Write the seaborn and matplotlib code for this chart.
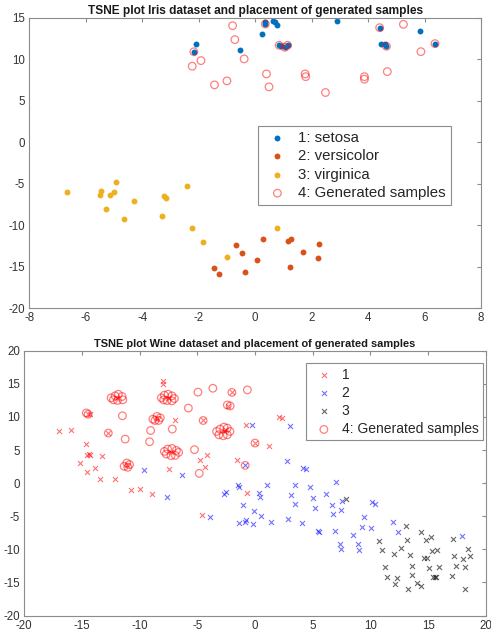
import numpy as np
import pandas as pd
import seaborn as sns
import matplotlib
matplotlib.use("Agg")
import matplotlib.pyplot as plt

# ---- Iris t-SNE embedding ----
iris_setosa = [(-2.10, 11.8), (-2.17, 10.9), (-0.52, 11.08), (0.23, 13.08), (0.36, 14.5),
               (0.36, 14.2), (0.64, 14.64), (0.70, 14.48), (0.76, 14.16), (2.89, 14.6),
               (0.85, 11.68), (0.91, 11.6), (1.05, 11.5), (1.17, 11.68), (4.41, 13.8),
               (4.47, 11.8), (4.61, 11.8), (4.65, 11.56), (5.83, 13.44), (6.37, 11.88)]
iris_versicolor = [(-1.45, -15.2), (-1.28, -15.9), (-0.67, -12.4), (-0.47, -13.4), (-0.36, -15.6),
                   (0.07, -14.2), (0.27, -11.6), (1.18, -11.85), (1.28, -11.7), (1.24, -15.05),
                   (1.71, -13.2), (2.21, -14.0), (2.27, -12.2)]
iris_virginica = [(-6.67, -5.95), (-5.46, -5.83), (-5.49, -6.35), (-5.29, -8.03), (-5.14, -6.31),
                  (-4.99, -5.99), (-4.93, -4.75), (-4.64, -9.24), (-4.28, -7.11), (-3.31, -8.92),
                  (-3.22, -6.51), (-3.16, -6.71), (-2.41, -5.27), (-2.24, -10.36), (-1.84, -12.04),
                  (-1.0, -13.85), (0.76, -10.3)]
iris_generated = [(-2.17, 10.9), (-2.23, 9.16), (-1.92, 9.83), (-1.44, 6.91), (-1.0, 7.39),
                  (-0.80, 14.04), (-0.72, 12.36), (-0.39, 10.04), (0.36, 14.24), (0.40, 8.23),
                  (0.49, 6.67), (0.85, 11.68), (1.05, 11.44), (1.15, 11.68), (1.77, 8.23),
                  (1.79, 7.9), (2.49, 5.99), (3.87, 7.9), (3.87, 7.6), (4.41, 13.8),
                  (4.65, 11.56), (4.68, 8.51), (5.25, 14.2), (5.87, 10.91), (6.37, 11.88)]
iris_labels = ["1: setosa", "2: versicolor", "3: virginica", "4: Generated samples"]

# ---- Wine t-SNE embedding ----
wine_class1 = [(-16.96, 7.8), (-15.94, 7.95), (-14.63, 5.95), (-14.57, 4.25), (-14.26, 4.25),
               (-14.37, 4.44), (-15.16, 3.04), (-14.52, 1.63), (-13.88, 2.23), (-13.24, 4.04),
               (-13.42, 0.68), (-12.09, 0.63), (-14.45, 10.4), (-14.3, 10.45), (-12.7, 7.56),
               (-11.97, 12.9), (-11.1, 2.75), (-8.0, 15.48), (-8.0, 14.94), (-7.55, 12.9),
               (-8.5, 9.8), (-6.96, 9.46), (-4.49, 9.46), (-2.7, 7.8), (-2.5, 8.0),
               (-7.25, 4.7), (-4.72, 3.43), (-4.14, 4.25), (-4.35, 2.38), (-7.48, 2.14),
               (-1.53, 3.54), (-0.78, 8.81), (-2.0, 13.7), (-2.3, 11.7), (2.09, 10.0),
               (2.35, 9.8), (0.0, 6.05), (1.19, 5.65), (-10.72, -1.08), (-10.0, -0.87),
               (-8.9, -1.63), (-4.57, -4.85), (-0.72, -1.48)]
wine_class2 = [(-9.59, 2.03), (-6.29, 1.23), (-1.44, -0.23), (-1.36, -0.57), (-7.62, -2.08),
               (-3.91, -5.05), (-2.7, -1.58), (-2.52, -1.38), (-1.01, -3.28), (-1.36, -6.1),
               (-0.84, -5.9), (-0.75, -5.5), (-0.17, -6.25), (-0.09, -4.14), (0.35, -1.48),
               (0.43, -2.14), (0.56, -5.0), (1.02, -0.33), (1.39, -5.85), (2.84, -5.4),
               (3.08, -1.83), (3.45, -0.23), (3.48, -3.13), (4.03, -6.1), (4.76, -0.57),
               (5.02, -2.23), (5.22, -3.73), (5.48, -7.26), (5.57, -7.36), (6.12, -1.63),
               (6.64, -3.24), (6.76, -4.74), (6.93, -7.26), (7.02, 0.12), (7.45, -4.04),
               (7.39, -9.26), (7.45, -10.0), (7.51, -2.63), (8.52, -7.8), (8.96, -9.2),
               (9.0, -10.17), (9.25, -6.65), (9.45, -5.09), (10.06, -6.85), (10.15, -2.89),
               (10.35, -3.13), (11.97, -5.85), (12.35, -7.41), (17.89, -8.06), (-0.23, 8.81),
               (3.04, 8.7), (2.73, 3.39), (4.12, 2.33), (4.41, 2.14), (-0.85, 2.68)]
wine_class3 = [(7.89, -2.39), (10.73, -8.76), (11.02, -10.12), (11.25, -12.73), (11.45, -14.23),
               (12.06, -10.66), (12.15, -15.24), (12.32, -14.28), (12.61, -9.82), (13.1, -6.5),
               (13.19, -8.66), (13.25, -16.04), (13.45, -10.92), (13.6, -12.53), (13.6, -13.83),
               (14.06, -15.04), (14.35, -7.35), (14.41, -15.54), (14.64, -11.32), (14.87, -11.32),
               (14.84, -8.66), (15.08, -12.83), (15.22, -8.1), (15.34, -10.32), (15.45, -14.23),
               (15.57, -14.23), (15.65, -14.2), (15.77, -10.17), (15.97, -12.68), (17.08, -13.98),
               (17.13, -8.4), (17.22, -11.02), (17.37, -12.58), (17.97, -11.52), (18.17, -12.63),
               (18.17, -15.93), (18.47, -10.02), (18.64, -11.02)]
wine_generated = [
    # cluster near (-12, 12.9)
    (-12.46, 12.88), (-12.11, 13.18), (-11.83, 13.43), (-11.51, 13.08), (-11.45, 12.58),
    (-11.91, 12.48), (-12.26, 12.58),
    # cluster near (-7.5, 12.9)
    (-8.11, 12.88), (-7.85, 13.28), (-7.53, 13.43), (-7.19, 13.18), (-6.98, 12.78),
    (-7.19, 12.42), (-7.62, 12.47), (-7.91, 12.57),
    # cluster near (-8.5, 9.8)
    (-8.84, 9.66), (-8.49, 10.07), (-8.2, 9.86), (-8.34, 9.46), (-8.66, 9.46),
    # cluster near (-2.7, 7.8)
    (-3.33, 7.81), (-3.04, 8.16), (-2.69, 8.46), (-2.4, 8.31), (-2.17, 7.81),
    (-2.4, 7.3), (-2.75, 7.15), (-3.13, 7.3),
    # cluster near (-7.2, 4.7)
    (-7.85, 4.79), (-7.56, 5.14), (-7.19, 5.24), (-6.81, 4.94), (-6.61, 4.64),
    (-6.9, 4.19), (-7.27, 4.14), (-7.68, 4.39),
    # cluster near (-11.1, 2.7)
    (-11.33, 2.54), (-11.1, 3.04), (-10.87, 2.79), (-11.01, 2.39),
    # small groups and singles
    (-14.6, 10.6), (-14.45, 10.4), (-2.4, 11.8), (-2.15, 11.65),
    (-12.7, 7.56), (-11.48, 10.17), (-11.24, 6.65), (-5.77, 11.33), (-4.94, 13.74),
    (-3.65, 14.33), (-2.0, 13.7), (-0.66, 14.08), (-9.04, 7.95), (-7.16, 8.16),
    (-9.13, 6.25), (-4.49, 9.46), (-5.24, 5.05), (-4.83, 1.47), (-0.85, 2.68), (0.0, 6.05)]
wine_labels = ["1", "2", "3", "4: Generated samples"]

IRIS_COLORS = ["#0072BD", "#D95319", "#EDB120"]
GEN_COLOR = (1.0, 0.0, 0.0, 0.5)
WINE_COLORS = [(1.0, 0.0, 0.0, 0.55), (0.0, 0.0, 1.0, 0.55), (0.0, 0.0, 0.0, 0.6)]

sns.set_style("white")
plt.rcParams["font.family"] = ["Liberation Sans", "DejaVu Sans"]
plt.rcParams["axes.unicode_minus"] = False
plt.rcParams["axes.edgecolor"] = "#8c8c8c"
plt.rcParams["axes.linewidth"] = 0.8


def to_df(points):
    arr = np.array(points)
    return pd.DataFrame({"x": arr[:, 0], "y": arr[:, 1]})


def style_axes(ax, xticks, yticks, title, title_size):
    ax.set_xticks(xticks)
    ax.set_yticks(yticks)
    ax.set_xlim(xticks[0], xticks[-1])
    ax.set_ylim(yticks[0], yticks[-1])
    ax.tick_params(direction="in", length=3, width=0.8, color="#8c8c8c",
                   labelsize=8.3, labelcolor="#333333", top=True, right=True,
                   pad=3)
    ax.set_xlabel("")
    ax.set_ylabel("")
    ax.set_title(title, fontsize=title_size, fontweight="bold", pad=2.5, color="#1a1a1a")
    for s in ax.spines.values():
        s.set_visible(True)
        s.set_color("#8c8c8c")


def legend(ax, anchor, size, spacing, textpad):
    leg = ax.legend(loc="upper left", bbox_to_anchor=anchor, borderaxespad=0,
                    fontsize=size, frameon=True, fancybox=False, framealpha=1,
                    edgecolor="#8c8c8c", handletextpad=textpad, labelspacing=spacing,
                    borderpad=0.3, handlelength=2.0, markerscale=1.0)
    leg.get_frame().set_linewidth(0.8)


fig = plt.figure(figsize=(4.91, 6.35), dpi=100)
ax1 = fig.add_axes([0.0597, 0.5145, 0.9200, 0.4576])
ax2 = fig.add_axes([0.0489, 0.0307, 0.9409, 0.4170])

# top: iris
for pts, col, lab in zip([iris_setosa, iris_versicolor, iris_virginica], IRIS_COLORS, iris_labels):
    d = to_df(pts)
    sns.scatterplot(data=d, x="x", y="y", ax=ax1, color=col, s=18, linewidth=0, label=lab)
d = to_df(iris_generated)
sns.scatterplot(data=d, x="x", y="y", ax=ax1, marker="o", s=30, facecolors="none",
                edgecolor=GEN_COLOR, linewidth=0.9, label=iris_labels[3])
style_axes(ax1, list(range(-8, 9, 2)), list(range(-20, 16, 5)),
           "TSNE plot Iris dataset and placement of generated samples", 8.6)
legend(ax1, (0.506, 0.627), 10.8, 0.3, 0.4)

# bottom: wine
for pts, col, lab in zip([wine_class1, wine_class2, wine_class3], WINE_COLORS, wine_labels):
    d = to_df(pts)
    sns.scatterplot(data=d, x="x", y="y", ax=ax2, marker="x", s=13, color=col,
                    linewidth=0.8, label=lab)
d = to_df(wine_generated)
sns.scatterplot(data=d, x="x", y="y", ax=ax2, marker="o", s=30, facecolors="none",
                edgecolor=GEN_COLOR, linewidth=0.9, label=wine_labels[3])
style_axes(ax2, list(range(-20, 21, 5)), list(range(-20, 21, 5)),
           "TSNE plot Wine dataset and placement of generated samples", 7.9)
legend(ax2, (0.61, 0.952), 10.0, 0.3, 0.27)

fig.savefig("out.png", dpi=100)
